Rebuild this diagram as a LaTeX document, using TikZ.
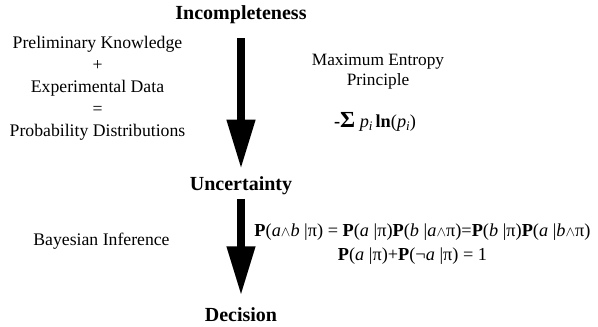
\documentclass[tikz,border=0pt]{standalone}
\usepackage{fontspec}
\setmainfont{Liberation Serif}
\usetikzlibrary{arrows.meta}
\newcommand{\wdg}{{\fontsize{14}{14}\selectfont$\wedge$}}
\newcommand{\PP}{\textbf{P}}
\newcommand{\sub}[1]{\raisebox{-0.35ex}{\fontsize{13}{13}\selectfont\textit{#1}}}
\begin{document}
\begin{tikzpicture}[x=1pt,y=-1pt,
  title/.style={font=\fontsize{20}{22}\selectfont\bfseries, inner sep=0pt},
  txt/.style={font=\fontsize{17.7}{22}\selectfont, align=center, inner sep=0pt},
  eqn/.style={font=\fontsize{18.3}{22}\selectfont, inner sep=0pt},
  bigarrow/.style={line width=7.5pt, -{Triangle[width=27pt,length=49pt]}}]
\useasboundingbox (0,0) rectangle (598,327);
\node[title] (inc) at (241,15) {Incompleteness};
\node[title] (unc) at (241,185.5) {Uncertainty};
\node[title] (dec) at (241,314.5) {Decision};
\draw[bigarrow, shorten <=14pt, shorten >=7.5pt] (inc.south) -- (unc.north);
\draw[bigarrow, shorten <=4pt, shorten >=12pt] (unc.south) -- (dec.north);
\node[txt] (prior) at (97.5,88) {Preliminary Knowledge\\+\\Experimental Data\\=\\Probability Distributions};
\node[txt, font=\fontsize{17.3}{20}\selectfont] (mep) at (378,72) {Maximum Entropy\\Principle};
\node[eqn] (ent) at (375,122) {\textbf{-{\fontsize{23}{23}\selectfont Σ}} \textit{p}\sub{i}\,\textbf{ln}(\textit{p}\sub{i})};
\node[txt] (bayes) at (101.5,241) {Bayesian Inference};
\node[eqn] (f1) at (422.5,232) {\PP(\textit{a}\wdg\textit{b} |π) = \PP(\textit{a} |π)\PP(\textit{b} |\textit{a}\wdg π)=\PP(\textit{b} |π)\PP(\textit{a} |\textit{b}\wdg π)};
\node[eqn] (f2) at (412.5,256) {\PP(\textit{a} |π)+\PP(¬\textit{a} |π) = 1};
\end{tikzpicture}
\end{document}
